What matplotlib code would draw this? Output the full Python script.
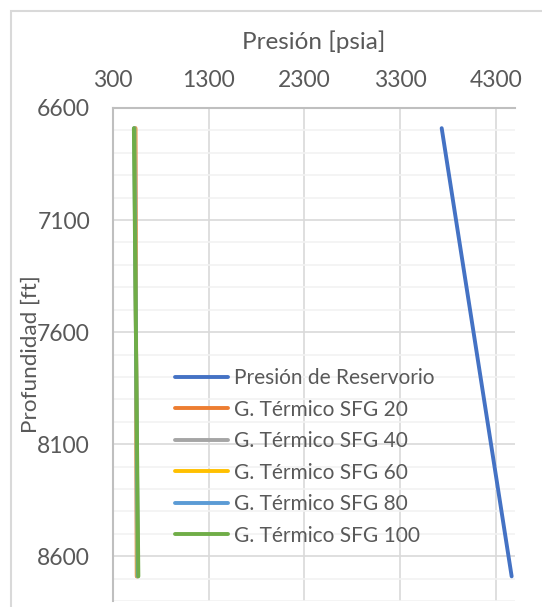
import matplotlib
matplotlib.use("Agg")
import matplotlib.pyplot as plt
from matplotlib.ticker import MultipleLocator, FixedLocator
from matplotlib.patches import Rectangle

plt.rcParams['font.family'] = ['Lato', 'DejaVu Sans']

# Data
depth = [6690, 8690]
p_reservorio = [3734, 4465]
sfg20 = [535, 548]
sfg40 = [530, 552]
sfg60 = [526, 556]
sfg80 = [522, 560]
sfg100 = [518, 565]

series = [
    ("Presión de Reservorio", p_reservorio, "#4472C4"),
    ("G. Térmico SFG 20", sfg20, "#ED7D31"),
    ("G. Térmico SFG 40", sfg40, "#A5A5A5"),
    ("G. Térmico SFG 60", sfg60, "#FFC000"),
    ("G. Térmico SFG 80", sfg80, "#5B9BD5"),
    ("G. Térmico SFG 100", sfg100, "#70AD47"),
]

x_ticks = [300, 1300, 2300, 3300, 4300]
y_ticks = [6600, 7100, 7600, 8100, 8600]

W, H = 542, 607
fig = plt.figure(figsize=(W / 100, H / 100), dpi=100)
fig.patch.set_facecolor("white")
# chart border
fig.add_artist(Rectangle((11 / W, -0.1), 2, 1.1 - 11 / H, transform=fig.transFigure,
                         fill=False, edgecolor="#d9d9d9", lw=1.5))

left, right, top, bottom = 113, 515, 108, 601
ax = fig.add_axes([left / W, 1 - bottom / H, (right - left) / W, (bottom - top) / H])

text_color = "#595959"
for name, vals, col in series:
    ax.plot(vals, depth, color=col, lw=2.8, label=name, solid_capstyle="round")

ax.set_xlim(300, 4500)
ax.set_ylim(8800, 6600)
ax.xaxis.set_major_locator(FixedLocator(x_ticks))
ax.yaxis.set_major_locator(FixedLocator(y_ticks))
ax.yaxis.set_minor_locator(MultipleLocator(100))
ax.xaxis.tick_top()
ax.xaxis.set_label_position("top")
ax.tick_params(axis="both", which="both", length=0, labelsize=16.5, colors=text_color)
ax.tick_params(axis="x", pad=12)
ax.tick_params(axis="y", pad=16.5)

ax.grid(True, which="major", color="#d9d9d9", lw=1.2)
ax.grid(True, which="minor", axis="y", color="#f2f2f2", lw=1.2)
ax.set_axisbelow(True)

for s in ["right", "bottom"]:
    ax.spines[s].set_visible(False)
for s in ["top", "left"]:
    ax.spines[s].set_color("#bfbfbf")
    ax.spines[s].set_linewidth(1.5)

ax.set_xlabel("Presión [psia]", fontsize=17.5, color=text_color)
ax.xaxis.label.set_va("center")
ax.xaxis.set_label_coords(0.5, (bottom - 42) / (bottom - top))
ax.set_ylabel("Profundidad [ft]", fontsize=16.2, color=text_color)
ax.yaxis.label.set_va("center")
ax.yaxis.set_label_coords((31 - left) / (right - left), 0.5)

leg = ax.legend(loc="upper left", bbox_to_anchor=(0.134, 0.489), frameon=False,
                fontsize=15, labelcolor=text_color, handlelength=2.55,
                handletextpad=0.25, labelspacing=0.55, borderaxespad=0)

fig.savefig("out.png", dpi=100, facecolor="white")
